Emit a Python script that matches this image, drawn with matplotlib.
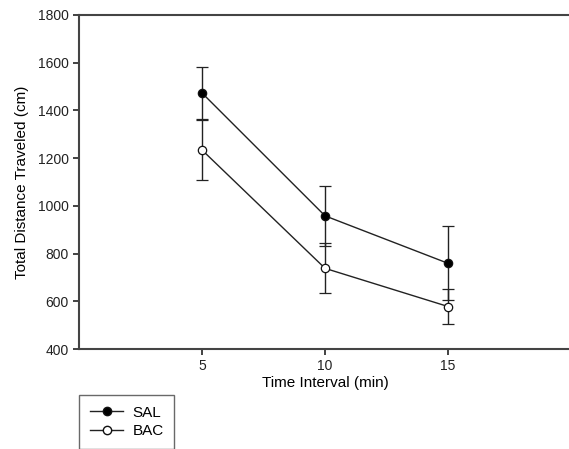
import matplotlib
matplotlib.use("Agg")
import matplotlib.pyplot as plt
from matplotlib.lines import Line2D

plt.rcParams["font.family"] = ["Liberation Sans", "DejaVu Sans"]

# data
time_min = [5, 10, 15]
sal_mean = [1473, 958, 759]
sal_err = [110, 125, 155]
bac_mean = [1234, 738, 578]
bac_err = [125, 105, 74]

fig = plt.figure(figsize=(5.69, 4.49), dpi=100)
ax = fig.add_axes([0.1388, 0.2227, 0.865, 0.744])

line_kw = dict(color="#222222", lw=1.0, capsize=4, elinewidth=1.0,
               capthick=1.0, markersize=6, markeredgewidth=0.9,
               markeredgecolor="#111111")
ax.errorbar(time_min, sal_mean, yerr=sal_err, marker="o",
            markerfacecolor="black", **line_kw)
ax.errorbar(time_min, bac_mean, yerr=bac_err, marker="o",
            markerfacecolor="white", **line_kw)

ax.set_xlim(0, 20)
ax.set_ylim(400, 1800)
ax.set_xticks(time_min)
ax.set_yticks(range(400, 1801, 200))
ax.tick_params(direction="out", length=4, width=1.2, labelsize=10, colors="#222222")
for side in ("left", "bottom", "top"):
    ax.spines[side].set_linewidth(1.5)
    ax.spines[side].set_color("#444444")
ax.spines["right"].set_visible(False)

ax.set_xlabel("Time Interval (min)", fontsize=11, labelpad=2)
ax.set_ylabel("Total Distance Traveled (cm)", fontsize=11, labelpad=6)

handles = [
    Line2D([0], [0], color="#222222", lw=1.0, marker="o", markersize=6,
           markerfacecolor="black", markeredgecolor="#111111", label="SAL"),
    Line2D([0], [0], color="#222222", lw=1.0, marker="o", markersize=6,
           markerfacecolor="white", markeredgecolor="#111111", label="BAC"),
]
leg = fig.legend(handles=handles, loc="upper left",
                 bbox_to_anchor=(79 / 569, 1 - 395 / 449),
                 fontsize=11, frameon=True, fancybox=False, handlelength=2.2,
                 handletextpad=0.6, borderpad=0.7, labelspacing=0.3,
                 borderaxespad=0)
leg.get_frame().set_edgecolor("#444444")
leg.get_frame().set_linewidth(1.0)

fig.savefig("out.png", dpi=100)
